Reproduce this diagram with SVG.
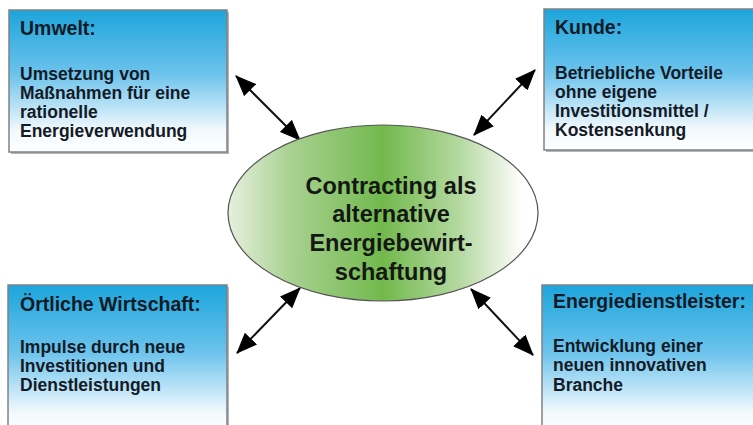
<svg xmlns="http://www.w3.org/2000/svg" width="753" height="425" viewBox="0 0 753 425">
<style>
.box{fill:url(#blue);stroke:#7d8186;stroke-width:1.5}
.shadow{fill:#b5b5b5}
.t{font-family:"Liberation Sans",Arial,sans-serif;font-weight:bold;fill:#141a26}
.h{font-size:19.5px}
.b{font-size:17.5px}
.c{font-family:"Liberation Sans",Arial,sans-serif;font-weight:bold;fill:#141814;font-size:23.5px;text-anchor:middle}
.conn line{stroke:#111;stroke-width:2;marker-start:url(#ah);marker-end:url(#ah)}
</style>
<defs>
<linearGradient id="blue" x1="0" y1="0" x2="0" y2="1">
<stop offset="0" stop-color="#1ca5dc"/>
<stop offset="0.45" stop-color="#6cc3ec"/>
<stop offset="0.85" stop-color="#f2f9fd"/>
<stop offset="1" stop-color="#ffffff"/>
</linearGradient>
<linearGradient id="green" x1="0" y1="0" x2="1" y2="0">
<stop offset="0" stop-color="#e6f0de"/>
<stop offset="0.2" stop-color="#a9d192"/>
<stop offset="0.5" stop-color="#72b94d"/>
<stop offset="0.75" stop-color="#b6d9a2"/>
<stop offset="0.95" stop-color="#ffffff"/>
</linearGradient>
<marker id="ah" viewBox="0 0 21 17" refX="20" refY="8.5" markerWidth="21" markerHeight="17" markerUnits="userSpaceOnUse" orient="auto-start-reverse">
<path d="M0,0 L21,8.5 L0,17 z" fill="#000"/>
</marker>
</defs>
<rect width="753" height="425" fill="#fff"/>
<g class="conn" id="connectors">
<line x1="300" y1="140" x2="236" y2="76"/>
<line x1="474" y1="135" x2="535" y2="70"/>
<line x1="300" y1="288" x2="237" y2="353"/>
<line x1="471" y1="289" x2="533" y2="355"/>
</g>
<g id="center">
<ellipse cx="383" cy="213" rx="155" ry="88" fill="url(#green)" stroke="#555" stroke-width="1.2"/>
<text class="c" x="391" y="194">Contracting als</text>
<text class="c" x="391" y="222">alternative</text>
<text class="c" x="391" y="251">Energiebewirt-</text>
<text class="c" x="391" y="280">schaftung</text>
</g>
<g id="umwelt">
<rect class="shadow" x="11" y="12" width="218" height="142"/>
<rect class="box" x="9" y="10" width="218" height="142"/>
<text class="t h" x="20" y="35">Umwelt:</text>
<text class="t b" x="20" y="80">Umsetzung von</text>
<text class="t b" x="20" y="99">Maßnahmen für eine</text>
<text class="t b" x="20" y="118">rationelle</text>
<text class="t b" x="20" y="137">Energieverwendung</text>
</g>
<g id="kunde">
<rect class="shadow" x="546" y="11" width="215" height="141"/>
<rect class="box" x="544" y="9" width="215" height="141"/>
<text class="t h" x="555" y="34">Kunde:</text>
<text class="t b" x="555" y="79">Betriebliche Vorteile</text>
<text class="t b" x="555" y="98">ohne eigene</text>
<text class="t b" x="555" y="117">Investitionsmittel /</text>
<text class="t b" x="555" y="136">Kostensenkung</text>
</g>
<g id="oertliche">
<rect class="shadow" x="10" y="287" width="219" height="150"/>
<rect class="box" x="8" y="285" width="219" height="150"/>
<text class="t h" x="20" y="311">Örtliche Wirtschaft:</text>
<text class="t b" x="20" y="353">Impulse durch neue</text>
<text class="t b" x="20" y="372">Investitionen und</text>
<text class="t b" x="20" y="391">Dienstleistungen</text>
</g>
<g id="energie">
<rect class="shadow" x="544" y="287" width="217" height="150"/>
<rect class="box" x="542" y="285" width="217" height="150"/>
<text class="t h" x="553" y="308">Energiedienstleister:</text>
<text class="t b" x="553" y="352">Entwicklung einer</text>
<text class="t b" x="553" y="371">neuen innovativen</text>
<text class="t b" x="553" y="391">Branche</text>
</g>
</svg>
